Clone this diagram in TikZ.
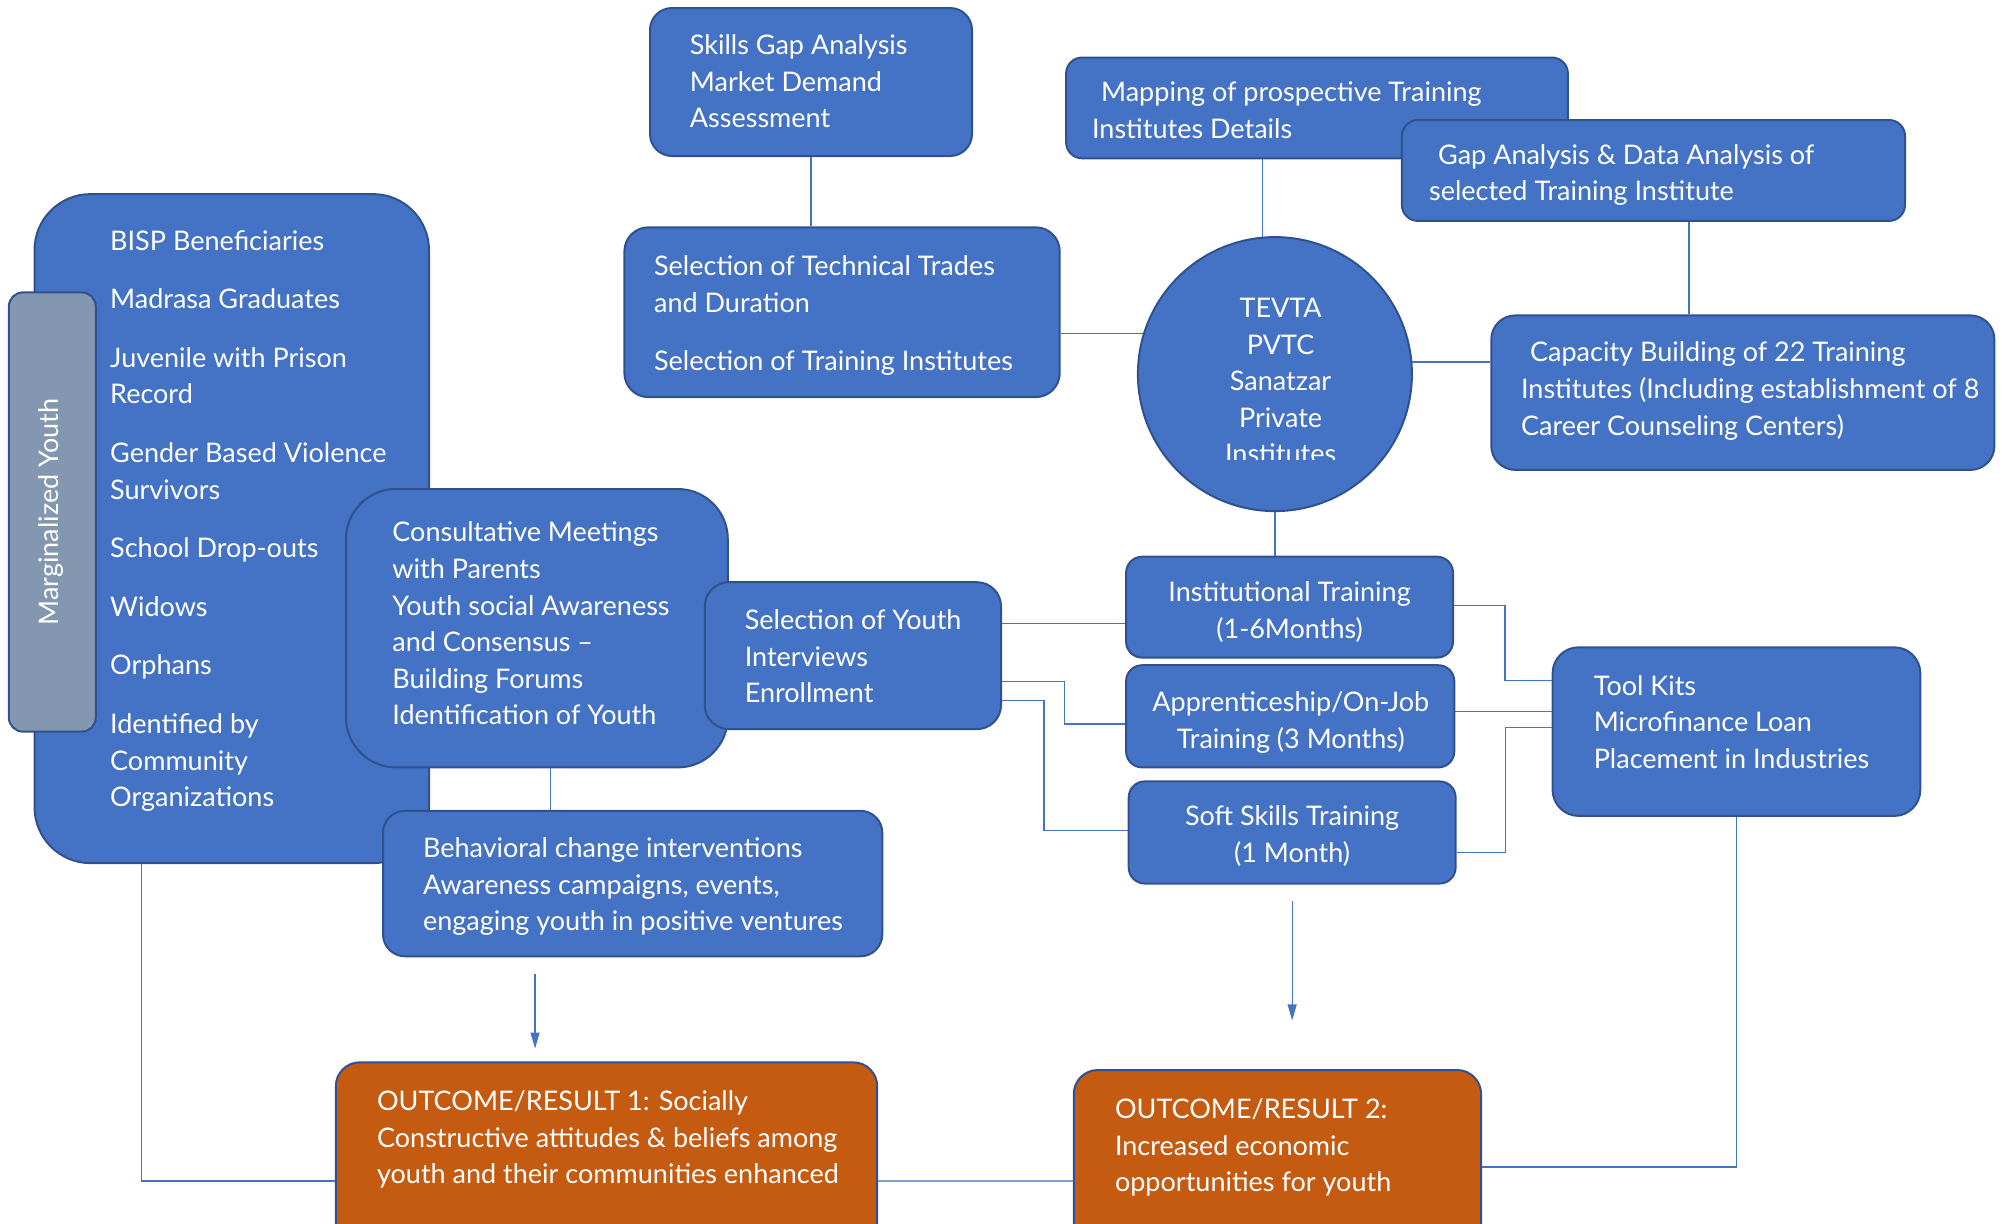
\documentclass[tikz,border=0pt]{standalone}
\usepackage{fontspec}
\setmainfont{Lato}
\usetikzlibrary{fit,arrows.meta,calc}
\definecolor{fillblue}{HTML}{4472C4}
\definecolor{edgeblue}{HTML}{2F528F}
\definecolor{lineblue}{HTML}{4472C4}
\definecolor{lightline}{HTML}{7F9FD8}
\definecolor{orangefill}{HTML}{C55A11}
\definecolor{grayfill}{HTML}{8497B0}
\begin{document}
\begin{tikzpicture}[x=0.5pt,y=-0.5pt,
  bluebox/.style={draw=edgeblue, line width=1pt, fill=fillblue, rounded corners=11pt, inner sep=0pt},
  orangebox/.style={draw=edgeblue, line width=1pt, fill=orangefill, rounded corners=12pt, inner sep=0pt},
  graybox/.style={draw=edgeblue, line width=1pt, fill=grayfill, rounded corners=7pt, inner sep=0pt},
  circbox/.style={draw=edgeblue, line width=1pt, fill=fillblue, circle, inner sep=0pt, minimum size=137pt},
  basetxt/.style={text=white, align=left, inner sep=0pt, font=\fontsize{13.5}{18.3}\selectfont},
  txt/.style={basetxt, yshift=-1.5pt},
  ctxt/.style={txt, align=center},
  conn/.style={draw=lineblue, line width=0.6pt},
  arr/.style={conn, -{Triangle[length=8pt,width=4.5pt]}}
]
\useasboundingbox (0,0) rectangle (2002,1223);
\clip (0,0) rectangle (2002,1223);

% top centre
\node[bluebox, fit={(650,8)(972,156)}] (skills) {};
\node[txt, anchor=west] (skillsT) at (689.5,78.5) {Skills Gap Analysis\\Market Demand\\Assessment};

\node[bluebox, rounded corners=12pt, fit={(624.4,227.3)(1059.7,397.1)}] (tech) {};
\node[txt, anchor=west] (techT) at (653.7,312.8) {Selection of Technical Trades\\and Duration\\[11pt]Selection of Training Institutes};

\node[bluebox, rounded corners=8pt, fit={(1066.1,57.5)(1567.9,158.3)}] (map) {};
\node[txt, anchor=west] (mapT) at (1091.7,107.3) {\hspace*{4.5pt}Mapping of prospective Training\\Institutes Details};

\node[bluebox, rounded corners=8pt, fit={(1401.9,120)(1905,220.9)}] (gap) {};
\node[txt, anchor=west] (gapT) at (1428.7,172) {\hspace*{4.5pt}Gap Analysis \& Data Analysis of\\selected Training Institute};

\node[circbox] (tevta) at (1274.9,374.1) {};
\begin{scope}
\clip (1100,200) rectangle (1450,459.6);
\node[ctxt] (tevtaT) at (1280.6,378.2) {TEVTA\\PVTC\\Sanatzar\\Private\\Institutes};
\end{scope}

\node[bluebox, rounded corners=12pt, fit={(1491.3,315.4)(1994.4,469.9)}] (cap) {};
\node[txt, anchor=west] (capT) at (1520.7,388.1) {\hspace*{4.5pt}Capacity Building of 22 Training\\Institutes (Including establishment of 8\\Career Counseling Centers)};

% left side
\node[bluebox, rounded corners=28pt, fit={(34.5,194.1)(429,863.1)}] (big) {};
\node[txt, anchor=west] (bigT) at (109.8,518) {BISP Beneficiaries\\[11pt]Madrasa Graduates\\[11pt]Juvenile with Prison\\Record\\[11pt]Gender Based Violence\\Survivors\\[11pt]School Drop-outs\\[11pt]Widows\\[11pt]Orphans\\[11pt]Identified by\\Community\\Organizations};

\node[graybox, fit={(8.9,292.4)(95.8,731.6)}] (marg) {};
\node[basetxt, rotate=90] (margT) at (51.1,512) {Marginalized Youth};

\node[bluebox, rounded corners=25pt, fit={(346,489)(727.8,767.4)}] (consult) {};
\node[txt, anchor=west] (consultT) at (392,620.6) {Consultative Meetings\\with Parents\\Youth social Awareness\\and Consensus --\\Building Forums\\Identification of Youth};

\node[bluebox, rounded corners=12pt, fit={(704.8,582.2)(1001,729.1)}] (youth) {};
\node[txt, anchor=west] (youthT) at (744.4,653.4) {Selection of Youth\\Interviews\\Enrollment};

\node[bluebox, rounded corners=11pt, fit={(383,810.8)(882.3,956.3)}] (behav) {};
\node[txt, anchor=west] (behavT) at (422.6,883.5) {Behavioral change interventions\\Awareness campaigns, events,\\engaging youth in positive ventures};

% training boxes
\node[bluebox, rounded corners=8pt, fit={(1126.1,556.7)(1453,657.6)}] (inst) {};
\node[ctxt] (instT) at (1289.6,609) {Institutional Training\\(1-6Months)};

\node[bluebox, rounded corners=8pt, fit={(1126.1,665.2)(1454.3,767.4)}] (appr) {};
\node[ctxt] (apprT) at (1290.8,719.5) {Apprenticeship/On-Job\\Training (3 Months)};

\node[bluebox, rounded corners=8pt, fit={(1128.7,781.4)(1455.6,883.5)}] (soft) {};
\node[ctxt] (softT) at (1292.1,833.1) {Soft Skills Training\\(1 Month)};

\node[bluebox, rounded corners=13pt, fit={(1552.6,647.3)(1920.3,815.9)}] (tool) {};
\node[txt, anchor=west] (toolT) at (1593.4,719) {Tool Kits\\Microfinance Loan\\Placement in Industries};

% outcomes
\node[orangebox, fit={(335.8,1062.3)(877.2,1299.7)}] (out1) {};
\node[txt, anchor=west] (out1T) at (376.7,1136.4) {OUTCOME/RESULT 1: Socially\\Constructive attitudes \& beliefs among\\youth and their communities enhanced};

\node[orangebox, fit={(1073.8,1070)(1481.1,1264)}] (out2) {};
\node[txt, anchor=west] (out2T) at (1114.6,1144.7) {OUTCOME/RESULT 2:\\Increased economic\\opportunities for youth};

% connectors
\draw[conn] (skills.south) -- (skills.south |- tech.north);
\draw[conn] (tevta.163) -- (tevta.163 -| tech.east);
\draw[conn] (tevta.95) -- (tevta.95 |- map.south);
\draw[conn] ([xshift=17.8pt]gap.south) -- ([xshift=17.8pt]gap.south |- cap.north);
\draw[conn] (tevta.5) -- (tevta.5 -| cap.west);
\draw[conn] (tevta.south) -- (tevta.south |- inst.north);
\draw[conn] ([yshift=-8pt]inst.west) -- ([yshift=-8pt]inst.west -| youth.east);
\draw[conn] ([yshift=-13pt]youth.east) -- ++(31.3pt,0) |- ([yshift=-3.8pt]appr.west);
\draw[conn] ([yshift=-22.6pt]youth.east) -- ++(21pt,0) |- ([yshift=1pt]soft.west);
\draw[conn] ([yshift=1pt]inst.east) -- ++(25.5pt,0) |- ([yshift=25.5pt]tool.west);
\draw[conn] ([yshift=2.5pt]appr.east) -- ([yshift=2.5pt]appr.east -| tool.west);
\draw[conn] ([yshift=-10.2pt]soft.east) -- ++(24.3pt,0) |- ([yshift=1.9pt]tool.west);
\draw[conn] ([xshift=6.7pt]consult.south) -- ([xshift=6.7pt]consult.south |- behav.north);
\draw[arr, shorten <=8.3pt, shorten >=6.4pt] ([xshift=-48.8pt]behav.south) -- ([xshift=-48.8pt]behav.south |- out1.north);
\draw[arr, shorten <=8.3pt, shorten >=24.3pt] (soft.south) -- (soft.south |- out2.north);
\draw[conn] ([xshift=-45pt]big.south) |- (out1.west);
\draw[draw=lightline, line width=1.2pt] (out1.east) -- (out1.east -| out2.west);
\draw[conn] (tool.south) |- (out2.east);
\end{tikzpicture}
\end{document}
